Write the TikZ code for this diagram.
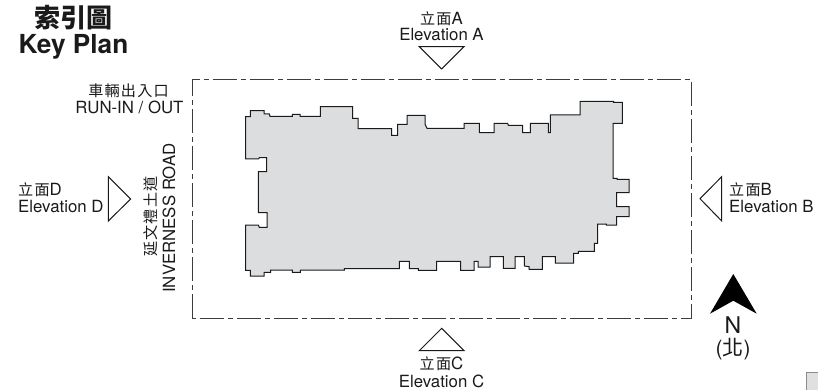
\documentclass[tikz,border=0pt]{standalone}
\usepackage{fontspec}
\setmainfont{TeX Gyre Heros}
\newfontfamily\cjk[LetterSpace=8,Scale=0.9]{Noto Sans CJK TC}
\newfontfamily\cjktitle{Noto Sans CJK TC}
\definecolor{ink}{HTML}{1A1A1A}
\definecolor{bldg}{HTML}{DCDDDF}
\tikzset{
  lab/.style={inner sep=0pt,align=center,text=ink,font=\fontsize{16.8}{18}\selectfont},
  tri/.style={draw=ink,line width=1pt,line join=miter,fill=white},
  site/.style={draw=ink!85,line width=1pt,dash pattern=on 24pt off 4pt on 5pt off 4pt},
  bld/.style={draw=ink,fill=bldg,line width=1pt,line join=miter}
}
\begin{document}
\begin{tikzpicture}[x=1pt,y=-1pt]
\useasboundingbox (0,0) rectangle (818,390);
% site boundary
\draw[site] (192,318) -- (192,79.5) -- (691,79.5) -- (691,318) -- cycle;
% building
\draw[bld] (258.3,190) -- (258.3,171.7) -- (266.7,171.7) -- (266.7,157.7) -- (259.3,157.7) -- (258.3,159) -- (245.7,159) -- (245.7,116.7) -- (250.3,116.7) -- (250.3,110.7) -- (264,110.7) -- (264,114) -- (269.3,114) -- (270,116.3) -- (292.3,116.3) -- (292.3,114.3) -- (300,114.3) -- (300,116.3) -- (320.3,116.3) -- (320.3,106.7) -- (352.7,106.7) -- (352.7,118.3) -- (358,118.3) -- (358,128.7) -- (391.7,128.7) -- (391.7,135.3) -- (397.7,135.3) -- (397.7,124.3) -- (407,124.3) -- (407,115.3) -- (425,115.3) -- (425,124.3) -- (427,128.3) -- (464,128.3) -- (464,123.3) -- (479.3,123.3) -- (479.3,132.7) -- (494,132.7) -- (494,123.3) -- (507.7,123.3) -- (508.3,125.3) -- (522.7,125.3) -- (522.7,132.7) -- (530.3,132.7) -- (530.3,123.3) -- (548.3,123.3) -- (548.3,132.7) -- (550.3,132.7) -- (550.3,115) -- (580,115) -- (580,101.3) -- (613.7,101.3) -- (613.7,102.3) -- (622.3,102.3) -- (622.3,123.3) -- (613,123.3) -- (613,178.3) -- (617,178.3) -- (617,179.3) -- (629,179.3) -- (629,192.7) -- (616.7,192.7) -- (616.7,206.7) -- (629,206.7) -- (629,216.7) -- (616.7,216.7) -- (616.7,225) -- (606.3,225) -- (606.3,224) -- (597.7,224) -- (597.7,243.3) -- (594.3,243.3) -- (594.3,251.3) -- (578.3,251.3) -- (578.3,253.3) -- (573.7,253.3) -- (573.7,263) -- (555.3,263) -- (555.3,256.7) -- (542.3,256.7) -- (542.3,269.3) -- (529,269.3) -- (529,266.7) -- (524.3,266) -- (524.3,256.7) -- (515,256.7) -- (515,268.3) -- (503.3,268.3) -- (503.3,256.7) -- (490,256.7) -- (490,267) -- (478,267) -- (478,261.3) -- (474,261.3) -- (474,270.3) -- (460.7,270.3) -- (460.7,261.3) -- (436.7,261.3) -- (436.7,270.3) -- (418.3,270.3) -- (418.3,268.7) -- (409.3,268.7) -- (409.3,261.3) -- (399.3,261.3) -- (399.3,268.7) -- (344.3,268.7) -- (344.3,270) -- (300.3,270) -- (300.3,272.3) -- (292.3,272.3) -- (292.3,270) -- (270.7,270) -- (270.7,272.3) -- (264,272.3) -- (264,276) -- (250.3,276) -- (250.3,270.3) -- (245.7,270.3) -- (245.7,225) -- (258.3,225) -- (259.3,227.3) -- (267,227.3) -- (267,212.7) -- (258.3,212.7) -- cycle;
% elevation markers
\draw[tri] (419.3,46.7) -- (464,46.7) -- (441.7,69) -- cycle;
\draw[tri] (419.3,350.7) -- (464,350.7) -- (441.7,328.3) -- cycle;
\draw[tri] (108.3,176.7) -- (108.3,221) -- (130.7,199) -- cycle;
\draw[tri] (721.7,176.7) -- (721.7,221) -- (700,198.7) -- cycle;
% north arrow
\fill[black] (733.3,274) -- (756.7,313.7) -- (733.3,300.7) -- (710,313.7) -- cycle;
% texts
\node[lab,font=\fontsize{26}{28}\selectfont\bfseries] (t1) at (73.5,18) {\cjktitle 索引圖};
\node[lab,font=\fontsize{26.2}{28}\selectfont\bfseries] (t2) at (73.5,47) {Key Plan};
\node[lab] (ea1) at (441.5,18.5) {{\cjk 立面}A};
\node[lab] (ea2) at (441.5,35) {Elevation A};
\node[lab] (ec1) at (441.5,364) {{\cjk 立面}C};
\node[lab] (ec2) at (441.5,381) {Elevation C};
\node[lab,anchor=west] (ed1) at (18,190) {{\cjk 立面}D};
\node[lab,anchor=west] (ed2) at (18,207) {Elevation D};
\node[lab,anchor=west] (eb1) at (729,190) {{\cjk 立面}B};
\node[lab,anchor=west] (eb2) at (729,207) {Elevation B};
\node[lab] (r1) at (128.5,91) {{\cjk 車輛出入口}};
\node[lab] (r2) at (129.5,107) {RUN-IN / OUT};
\node[lab,rotate=90] (i1) at (151,216.5) {{\cjk 延文禮土道}};
\node[lab,rotate=90] (i2) at (169,218) {INVERNESS ROAD};
\node[lab,font=\fontsize{23}{25}\selectfont] (n1) at (733,325) {N};
\node[lab,font=\fontsize{21}{23}\selectfont] (n2) at (733,349) {({\cjktitle 北})};
% page corner
\draw[fill=black!12,draw=black!45,line width=1pt] (818,372.5) -- (806.5,372.5) -- (806.5,390) -- (818,390);
\end{tikzpicture}
\end{document}
